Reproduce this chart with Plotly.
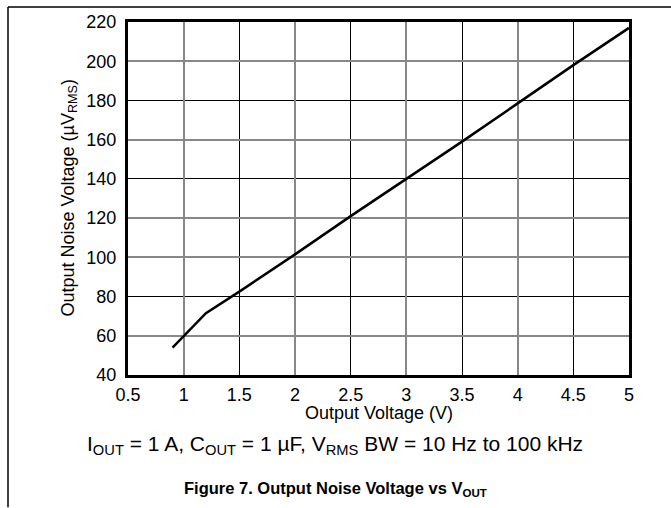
import plotly.graph_objects as go

# Data
vout = [0.9, 1.0, 1.2, 1.5, 2.0, 2.5, 3.0, 3.5, 4.0, 4.5, 5.0]
noise = [54, 60, 71.5, 82.5, 101.5, 121, 140, 159, 178.5, 198, 217]

x_ticks = [0.5, 1, 1.5, 2, 2.5, 3, 3.5, 4, 4.5, 5]
x_tick_labels = ["0.5", "1", "1.5", "2", "2.5", "3", "3.5", "4", "4.5", "5"]
y_ticks = [40, 60, 80, 100, 120, 140, 160, 180, 200, 220]
x_gray = [1, 2, 3, 4]
y_gray = [60, 100, 120, 160, 200]

FONT = "Liberation Sans, Arial, sans-serif"

W, H = 671, 508
L, R, T, B = 128, 629, 20, 375

def px(x):
    return (x - L) / (R - L)

def py(y):
    return (B - y) / (B - T)

fig = go.Figure()
# invisible trace to activate overlay axes
fig.add_trace(go.Scatter(x=[None], y=[None], xaxis="x2", yaxis="y2",
                         showlegend=False, hoverinfo="skip"))
fig.add_trace(go.Scatter(x=vout, y=noise, mode="lines",
                         line=dict(color="black", width=2.5),
                         showlegend=False, hoverinfo="skip"))

fig.update_layout(
    width=W, height=H,
    margin=dict(l=L, r=W - R, t=T, b=H - B),
    paper_bgcolor="white", plot_bgcolor="white",
    font=dict(family=FONT, color="black", size=18),
    xaxis=dict(range=[0.5, 5], tickvals=x_ticks, ticktext=x_tick_labels,
               showgrid=True, gridcolor="black", gridwidth=1,
               showline=True, linecolor="black", linewidth=3, mirror=True,
               ticks="", zeroline=False, tickfont=dict(size=18),
               ticklabelstandoff=1),
    yaxis=dict(range=[40, 220], tickvals=y_ticks,
               showgrid=True, gridcolor="black", gridwidth=1,
               showline=True, linecolor="black", linewidth=3, mirror=True,
               ticks="", zeroline=False, tickfont=dict(size=18),
               ticklabelstandoff=5),
    xaxis2=dict(range=[0.5, 5], overlaying="x", tickvals=x_gray,
                showgrid=True, gridcolor="#888888", gridwidth=2,
                showticklabels=False, zeroline=False, showline=False),
    yaxis2=dict(range=[40, 220], overlaying="y", tickvals=y_gray,
                showgrid=True, gridcolor="#888888", gridwidth=2,
                showticklabels=False, zeroline=False, showline=False),
    shapes=[
        dict(type="line", xref="paper", yref="paper",
             x0=px(8), x1=px(671), y0=py(5), y1=py(5),
             line=dict(color="black", width=1.5)),
        dict(type="line", xref="paper", yref="paper",
             x0=px(8), x1=px(8), y0=py(5), y1=py(508),
             line=dict(color="black", width=1.5)),
    ],
    annotations=[
        dict(xref="paper", yref="paper", x=0.5, y=py(413),
             text="Output Voltage (V)",
             showarrow=False, font=dict(size=18), xanchor="center", yanchor="middle"),
        dict(xref="paper", yref="paper", x=px(69), y=0.5,
             text="Output Noise Voltage (µV<sub>RMS</sub>)", textangle=-90,
             showarrow=False, font=dict(size=18), xanchor="center", yanchor="middle"),
        dict(xref="paper", yref="paper", x=px(335), y=py(445),
             text="I<sub>OUT</sub> = 1 A, C<sub>OUT</sub> = 1 µF, V<sub>RMS</sub> BW = 10 Hz to 100 kHz",
             showarrow=False, font=dict(size=21), xanchor="center", yanchor="middle"),
        dict(xref="paper", yref="paper", x=px(335), y=py(490),
             text="<b>Figure 7. Output Noise Voltage vs V<sub>OUT</sub></b>",
             showarrow=False, font=dict(size=16.5), xanchor="center", yanchor="middle"),
    ],
)

fig.write_html("out.html",
               config={"displayModeBar": False},
               post_script="document.body.style.margin='0';document.body.style.overflow='hidden';")
